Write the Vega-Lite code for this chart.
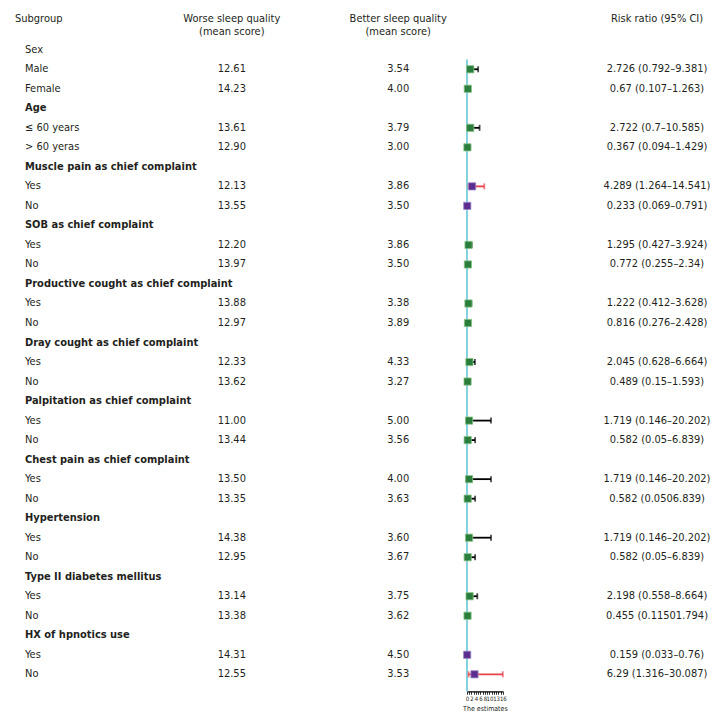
{
  "$schema": "https://vega.github.io/schema/vega-lite/v6.json",
  "padding": {"left": 15, "top": 13, "right": 0, "bottom": 0},
  "bounds": "flush",
  "spacing": 0,
  "config": {
    "view": {"stroke": null},
    "font": "DejaVu Sans Condensed, sans-serif",
    "title": {"font": "DejaVu Sans Condensed, sans-serif", "fontSize": 11, "fontWeight": "normal", "color": "#231f20", "lineHeight": 13}
  },
  "data": {"values": [
    {"i": 0, "label": "Sex", "kind": "group"},
    {"i": 1, "label": "Male", "kind": "item", "worse": 12.61, "better": 3.54, "rr": "2.726 (0.792–9.381)", "est": 2.726, "lo": 0.792, "hi": 9.381, "sig": "no"},
    {"i": 2, "label": "Female", "kind": "item", "worse": 14.23, "better": 4.00, "rr": "0.67 (0.107–1.263)", "est": 0.67, "lo": 0.107, "hi": 1.263, "sig": "no"},
    {"i": 3, "label": "Age", "kind": "group"},
    {"i": 4, "label": "≤ 60 years", "kind": "item", "worse": 13.61, "better": 3.79, "rr": "2.722 (0.7–10.585)", "est": 2.722, "lo": 0.7, "hi": 10.585, "sig": "no"},
    {"i": 5, "label": "> 60 yeras", "kind": "item", "worse": 12.90, "better": 3.00, "rr": "0.367 (0.094–1.429)", "est": 0.367, "lo": 0.094, "hi": 1.429, "sig": "no"},
    {"i": 6, "label": "Muscle pain as chief complaint", "kind": "group"},
    {"i": 7, "label": "Yes", "kind": "item", "worse": 12.13, "better": 3.86, "rr": "4.289 (1.264–14.541)", "est": 4.289, "lo": 1.264, "hi": 14.541, "sig": "yes"},
    {"i": 8, "label": "No", "kind": "item", "worse": 13.55, "better": 3.50, "rr": "0.233 (0.069–0.791)", "est": 0.233, "lo": 0.069, "hi": 0.791, "sig": "yes"},
    {"i": 9, "label": "SOB as chief complaint", "kind": "group"},
    {"i": 10, "label": "Yes", "kind": "item", "worse": 12.20, "better": 3.86, "rr": "1.295 (0.427–3.924)", "est": 1.295, "lo": 0.427, "hi": 3.924, "sig": "no"},
    {"i": 11, "label": "No", "kind": "item", "worse": 13.97, "better": 3.50, "rr": "0.772 (0.255–2.34)", "est": 0.772, "lo": 0.255, "hi": 2.34, "sig": "no"},
    {"i": 12, "label": "Productive cought as chief complaint", "kind": "group"},
    {"i": 13, "label": "Yes", "kind": "item", "worse": 13.88, "better": 3.38, "rr": "1.222 (0.412–3.628)", "est": 1.222, "lo": 0.412, "hi": 3.628, "sig": "no"},
    {"i": 14, "label": "No", "kind": "item", "worse": 12.97, "better": 3.89, "rr": "0.816 (0.276–2.428)", "est": 0.816, "lo": 0.276, "hi": 2.428, "sig": "no"},
    {"i": 15, "label": "Dray cought as chief complaint", "kind": "group"},
    {"i": 16, "label": "Yes", "kind": "item", "worse": 12.33, "better": 4.33, "rr": "2.045 (0.628–6.664)", "est": 2.045, "lo": 0.628, "hi": 6.664, "sig": "no"},
    {"i": 17, "label": "No", "kind": "item", "worse": 13.62, "better": 3.27, "rr": "0.489 (0.15–1.593)", "est": 0.489, "lo": 0.15, "hi": 1.593, "sig": "no"},
    {"i": 18, "label": "Palpitation as chief complaint", "kind": "group"},
    {"i": 19, "label": "Yes", "kind": "item", "worse": 11.00, "better": 5.00, "rr": "1.719 (0.146–20.202)", "est": 1.719, "lo": 0.146, "hi": 20.202, "sig": "no"},
    {"i": 20, "label": "No", "kind": "item", "worse": 13.44, "better": 3.56, "rr": "0.582 (0.05–6.839)", "est": 0.582, "lo": 0.05, "hi": 6.839, "sig": "no"},
    {"i": 21, "label": "Chest pain as chief complaint", "kind": "group"},
    {"i": 22, "label": "Yes", "kind": "item", "worse": 13.50, "better": 4.00, "rr": "1.719 (0.146–20.202)", "est": 1.719, "lo": 0.146, "hi": 20.202, "sig": "no"},
    {"i": 23, "label": "No", "kind": "item", "worse": 13.35, "better": 3.63, "rr": "0.582 (0.0506.839)", "est": 0.582, "lo": 0.05, "hi": 6.839, "sig": "no"},
    {"i": 24, "label": "Hypertension", "kind": "group"},
    {"i": 25, "label": "Yes", "kind": "item", "worse": 14.38, "better": 3.60, "rr": "1.719 (0.146–20.202)", "est": 1.719, "lo": 0.146, "hi": 20.202, "sig": "no"},
    {"i": 26, "label": "No", "kind": "item", "worse": 12.95, "better": 3.67, "rr": "0.582 (0.05–6.839)", "est": 0.582, "lo": 0.05, "hi": 6.839, "sig": "no"},
    {"i": 27, "label": "Type II diabetes mellitus", "kind": "group"},
    {"i": 28, "label": "Yes", "kind": "item", "worse": 13.14, "better": 3.75, "rr": "2.198 (0.558–8.664)", "est": 2.198, "lo": 0.558, "hi": 8.664, "sig": "no"},
    {"i": 29, "label": "No", "kind": "item", "worse": 13.38, "better": 3.62, "rr": "0.455 (0.11501.794)", "est": 0.455, "lo": 0.115, "hi": 1.794, "sig": "no"},
    {"i": 30, "label": "HX of hpnotics use", "kind": "group"},
    {"i": 31, "label": "Yes", "kind": "item", "worse": 14.31, "better": 4.50, "rr": "0.159 (0.033–0.76)", "est": 0.159, "lo": 0.033, "hi": 0.76, "sig": "yes"},
    {"i": 32, "label": "No", "kind": "item", "worse": 12.55, "better": 3.53, "rr": "6.29 (1.316–30.087)", "est": 6.29, "lo": 1.316, "hi": 30.087, "sig": "yes"}
  ]},
  "hconcat": [
    {
      "width": 20, "height": 651.3,
      "title": {"text": "Subgroup", "anchor": "start", "offset": 15.5},
      "layer": [
        {
          "transform": [{"filter": "datum.kind == 'group' && datum.label != 'Sex'"}],
          "mark": {"type": "text", "align": "left", "baseline": "middle", "fontSize": 11, "fontWeight": "bold", "color": "#231f20"},
          "encoding": {
            "y": {"field": "i", "type": "quantitative", "scale": {"domain": [-0.5, 32.87], "reverse": true, "nice": false, "zero": false}, "axis": null},
            "text": {"field": "label"}
          }
        },
        {
          "transform": [{"filter": "datum.kind != 'group' || datum.label == 'Sex'"}],
          "mark": {"type": "text", "align": "left", "baseline": "middle", "fontSize": 11, "color": "#231f20"},
          "encoding": {
            "y": {"field": "i", "type": "quantitative", "scale": {"domain": [-0.5, 32.87], "reverse": true, "nice": false, "zero": false}, "axis": null},
            "text": {"field": "label"}
          }
        }
      ]
    },
    {
      "width": 98.2, "height": 651.3,
      "data": {"values": []},
      "mark": "point"
    },
    {
      "width": 195.6, "height": 651.3,
      "title": {"text": ["Worse sleep quality", "(mean score)"], "anchor": "middle", "offset": 2.5},
      "transform": [{"filter": "isValid(datum.worse)"}],
      "mark": {"type": "text", "align": "center", "baseline": "middle", "fontSize": 11, "color": "#231f20"},
      "encoding": {
        "y": {"field": "i", "type": "quantitative", "scale": {"domain": [-0.5, 32.87], "reverse": true, "nice": false, "zero": false}, "axis": null},
        "text": {"field": "worse", "type": "quantitative", "format": ".2f"}
      }
    },
    {
      "width": 136.4, "height": 651.3,
      "title": {"text": ["Better sleep quality", "(mean score)"], "anchor": "middle", "offset": 2.5},
      "transform": [{"filter": "isValid(datum.better)"}],
      "mark": {"type": "text", "align": "center", "baseline": "middle", "fontSize": 11, "color": "#231f20"},
      "encoding": {
        "y": {"field": "i", "type": "quantitative", "scale": {"domain": [-0.5, 32.87], "reverse": true, "nice": false, "zero": false}, "axis": null},
        "text": {"field": "better", "type": "quantitative", "format": ".2f"}
      }
    },
    {
      "width": 35.8, "height": 651.3,
      "layer": [
        {
          "data": {"values": [{"ref": 0}]},
          "mark": {"type": "rule", "color": "#5bc3d6", "strokeWidth": 1.5},
          "encoding": {
            "x": {"field": "ref", "type": "quantitative", "scale": {"domain": [0, 16], "nice": false, "zero": false},
              "axis": {"orient": "bottom", "values": [0,1,2,3,4,5,6,7,8,9,10,11,12,13,14,15,16],
                "labelExpr": "indexof([0,2,4,6,8,10,13,16], datum.value) >= 0 ? datum.label : ''",
                "title": "The estimates", "grid": false, "domainColor": "#000", "domainWidth": 1.2, "tickColor": "#000", "tickSize": 3, "tickWidth": 0.8,
                "labelFontSize": 6, "labelPadding": 1, "labelColor": "#231f20", "labelOverlap": false, "labelFlush": false,
                "titleFontSize": 7, "titlePadding": 3, "titleFontWeight": "normal", "titleColor": "#231f20"}},
            "y": {"datum": 0.5, "type": "quantitative", "scale": {"domain": [-0.5, 32.87], "reverse": true, "nice": false, "zero": false}, "axis": null},
            "y2": {"datum": 32.87}
          }
        },
        {
          "transform": [{"filter": "isValid(datum.est)"}],
          "mark": {"type": "rule", "strokeWidth": 1.8},
          "encoding": {
            "x": {"field": "lo", "type": "quantitative", "scale": {"domain": [0, 30.1], "nice": false, "zero": false}, "axis": null},
            "x2": {"field": "hi"},
            "y": {"field": "i", "type": "quantitative", "scale": {"domain": [-0.5, 32.87], "reverse": true, "nice": false, "zero": false}, "axis": null},
            "color": {"condition": {"test": "datum.sig == 'yes'", "value": "#e8424c"}, "value": "#000000"}
          }
        },
        {
          "transform": [{"filter": "isValid(datum.est)"}],
          "mark": {"type": "tick", "orient": "vertical", "size": 6, "thickness": 1.8},
          "encoding": {
            "x": {"field": "lo", "type": "quantitative", "scale": {"domain": [0, 30.1], "nice": false, "zero": false}, "axis": null},
            "y": {"field": "i", "type": "quantitative", "scale": {"domain": [-0.5, 32.87], "reverse": true, "nice": false, "zero": false}, "axis": null},
            "color": {"condition": {"test": "datum.sig == 'yes'", "value": "#e8424c"}, "value": "#000000"}
          }
        },
        {
          "transform": [{"filter": "isValid(datum.est)"}],
          "mark": {"type": "tick", "orient": "vertical", "size": 6, "thickness": 1.8},
          "encoding": {
            "x": {"field": "hi", "type": "quantitative", "scale": {"domain": [0, 30.1], "nice": false, "zero": false}, "axis": null},
            "y": {"field": "i", "type": "quantitative", "scale": {"domain": [-0.5, 32.87], "reverse": true, "nice": false, "zero": false}, "axis": null},
            "color": {"condition": {"test": "datum.sig == 'yes'", "value": "#e8424c"}, "value": "#000000"}
          }
        },
        {
          "transform": [{"filter": "isValid(datum.est)"}],
          "mark": {"type": "point", "shape": "square", "size": 52, "filled": true, "opacity": 1, "strokeWidth": 0.8},
          "encoding": {
            "x": {"field": "est", "type": "quantitative", "scale": {"domain": [0, 30.1], "nice": false, "zero": false}, "axis": null},
            "y": {"field": "i", "type": "quantitative", "scale": {"domain": [-0.5, 32.87], "reverse": true, "nice": false, "zero": false}, "axis": null},
            "fill": {"condition": {"test": "datum.sig == 'yes'", "value": "#5b2d90"}, "value": "#2a7d3a"},
            "stroke": {"condition": {"test": "datum.sig == 'yes'", "value": "#9d88c6"}, "value": "#86c286"}
          }
        }
      ],
      "resolve": {"scale": {"x": "independent"}}
    },
    {
      "width": 94, "height": 651.3,
      "data": {"values": []},
      "mark": "point"
    },
    {
      "width": 120, "height": 651.3,
      "title": {"text": "Risk ratio (95% CI)", "anchor": "middle", "offset": 15.5},
      "transform": [{"filter": "isValid(datum.rr)"}],
      "mark": {"type": "text", "align": "center", "baseline": "middle", "fontSize": 11, "color": "#231f20"},
      "encoding": {
        "y": {"field": "i", "type": "quantitative", "scale": {"domain": [-0.5, 32.87], "reverse": true, "nice": false, "zero": false}, "axis": null},
        "text": {"field": "rr"}
      }
    }
  ]
}
